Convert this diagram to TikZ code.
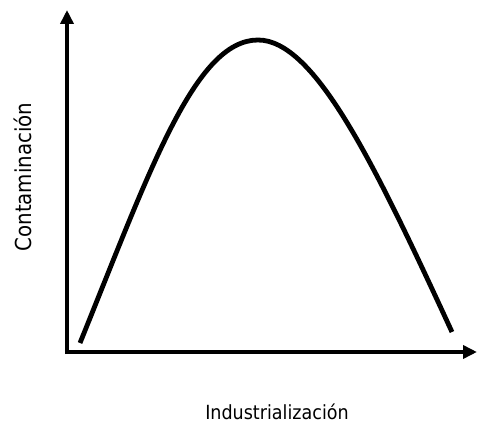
\documentclass[tikz,border=0pt]{standalone}
\usepackage{fontspec}
\setmainfont{DejaVu Sans Condensed}
\usetikzlibrary{arrows.meta}
\begin{document}
\begin{tikzpicture}[x=1pt,y=-1pt,
  axis/.style={line width=4.5pt,-{Triangle[length=14pt,width=13pt]}},
  curve/.style={line width=4.8pt},
  lbl/.style={inner sep=0pt}]
\useasboundingbox (0,0) rectangle (477,427);
\coordinate (o) at (67,352);
\coordinate (ytip) at (67,10);
\coordinate (xtip) at (477,352);
\draw[axis] ([yshift=-2.25pt]o) -- (ytip);
\draw[axis] ([xshift=-2.25pt]o) -- (xtip);
\coordinate (c0) at (80,343);
\coordinate (cp) at (258,40);
\coordinate (c1) at (452,332);
\draw[curve] (c0) .. controls (150,170) and (195,40) .. (cp)
  .. controls (315,40) and (375,165) .. (c1);
\node[lbl,rotate=90,font=\fontsize{22}{25}\selectfont] (ylab) at (23,177) {Contaminación};
\node[lbl,font=\fontsize{19.5}{23}\selectfont] (xlab) at (277,412) {Industrialización};
\end{tikzpicture}
\end{document}
